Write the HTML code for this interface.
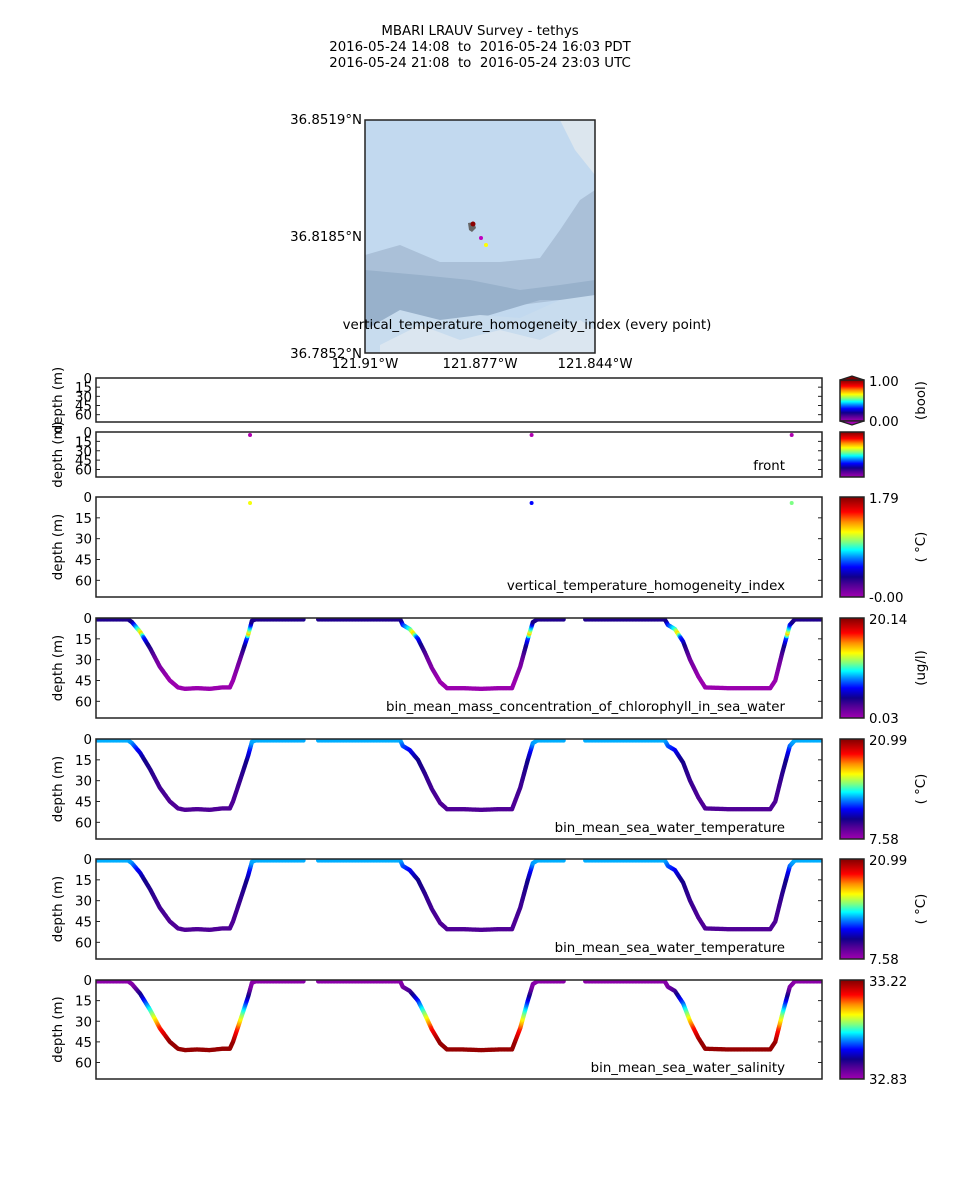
<!DOCTYPE html>
<html><head><meta charset="utf-8"><style>
html,body{margin:0;padding:0;background:#fff}
svg{display:block;font-family:"DejaVu Sans","Liberation Sans",sans-serif}
text{white-space:pre}
</style></head><body>
<svg id="fig" width="960" height="1200" viewBox="0 0 960 1200" xmlns="http://www.w3.org/2000/svg">
<g font-size="13.35" text-anchor="middle" fill="#000">
<text x="480" y="35" xml:space="preserve">MBARI LRAUV Survey - tethys</text>
<text x="480" y="51" xml:space="preserve">2016-05-24 14:08  to  2016-05-24 16:03 PDT</text>
<text x="480" y="67" xml:space="preserve">2016-05-24 21:08  to  2016-05-24 23:03 UTC</text>
</g>
<g>
<defs><clipPath id="mapclip"><rect x="365" y="120" width="230" height="233"/></clipPath></defs>
<g clip-path="url(#mapclip)">
<rect x="365" y="120" width="230" height="233" fill="#c2d9ef"/>
<polygon points="560,120 595,120 595,175 575,150" fill="#dce6ee"/>
<polygon points="365,255 400,245 440,262 500,262 540,258 560,230 580,200 595,190 595,300 560,300 520,305 470,318 420,322 380,330 365,340" fill="#aac0d8"/>
<polygon points="365,270 420,275 470,280 520,290 560,285 595,280 595,300 540,300 480,318 420,325 365,335" fill="#98b1cb"/>
<polygon points="365,330 400,310 440,320 480,315 520,318 560,300 595,295 595,353 365,353" fill="#c8dcee"/>
<polygon points="380,345 420,325 460,340 500,330 540,340 580,320 595,330 595,353 380,353" fill="#dbe6f0"/>
</g>
<rect x="365" y="120" width="230" height="233" fill="none" stroke="#222" stroke-width="1.5"/>
<path d="M468,223 L474,222 L476,228 L472,232 L469,230 Z" fill="#666"/>
<circle cx="473" cy="224" r="2.5" fill="#8b0000"/>
<circle cx="481" cy="238" r="2" fill="#c000c0"/>
<circle cx="486" cy="245" r="2" fill="#ffff00"/>
<g font-size="13.35" fill="#000">
<text x="362" y="124" text-anchor="end">36.8519°N</text>
<text x="362" y="241" text-anchor="end">36.8185°N</text>
<text x="362" y="358" text-anchor="end">36.7852°N</text>
<text x="365" y="368" text-anchor="middle">121.91°W</text>
<text x="480" y="368" text-anchor="middle">121.877°W</text>
<text x="595" y="368" text-anchor="middle">121.844°W</text>
<text x="527" y="329" text-anchor="middle">vertical_temperature_homogeneity_index (every point)</text>
</g>
</g>
<g id="panels"></g>
</svg>
<script>
// mission time (minutes since 14:08) and vehicle depth (m) keypoints; null = data gap
const times = [0,5.1,5.7,7.0,8.6,10.1,11.7,13.0,14.1,16,18,20,21.2,21.7,22.8,24.1,24.7,25.3,33.1,null,35.2,48.2,48.6,49.7,51.0,52.1,53.2,54.5,55.6,58,61,64,65.9,67.2,68.4,69.2,69.9,74.3,null,77.5,90.1,90.6,91.7,93.0,94.1,95.4,96.5,100,103,106.8,107.6,108.7,109.9,110.7,115];
const depths = [1,1,3,10,22,35,45,50,51,50.5,51,50,50,45,30,12,2,1,1,null,1,1,5,8,15,25,36,46,50.5,50.5,51,50.5,50.5,35,15,3,1,1,null,1,1,5,8,17,30,42,50,50.5,50.5,50.5,45,25,5,1,1];
// colour-variable depth profiles
const chlDepth = [0,3,8,11,14,20,30,45,60];
const chlValue = [3.5,4,10,14,7,4,1.5,0.2,0.2];
const tempDepth = [0,3,8,15,30,45,60];
const tempValue = [13.3,13.0,11.6,10.3,9.6,9.2,9.2];
const salDepth = [0,5,12,20,28,35,45,60];
const salValue = [32.84,32.85,32.92,33.0,33.08,33.15,33.21,33.21];
// sparse point series
const frontTimes = [24.4,69.0,110.2];
const frontDepths = [4.8,4.8,4.8];
const vthTimes = [24.4,69.0,110.2];
const vthDepths = [4.3,4.3,4.3];
const vthValues = [1.15,0.54,0.98];
const depthTicks = [0,15,30,45,60];

const NS="http://www.w3.org/2000/svg";
const root=document.getElementById('panels');
const X0=96,X1=822,TMAX=115,DMAX=72,FS=13.35;
const xs=t=>X0+(t/TMAX)*(X1-X0);
const stops=[[0,[160,0,176]],[0.12,[80,0,150]],[0.2,[16,0,138]],[0.3,[0,0,255]],[0.4,[0,144,255]],[0.47,[0,255,255]],[0.55,[128,255,128]],[0.65,[255,255,0]],[0.75,[255,144,0]],[0.85,[255,0,0]],[1,[128,0,0]]];
function cmap(f){f=Math.max(0,Math.min(1,f));for(let i=1;i<stops.length;i++){if(f<=stops[i][0]){const a=stops[i-1],b=stops[i],u=(f-a[0])/(b[0]-a[0]);return 'rgb('+a[1].map((c,k)=>Math.round(c+(b[1][k]-c)*u)).join(',')+')';}}return 'rgb(128,0,0)';}
function lookup(ds,vs,d){if(d<=ds[0])return vs[0];for(let i=1;i<ds.length;i++){if(d<=ds[i]){const u=(d-ds[i-1])/(ds[i]-ds[i-1]);return vs[i-1]+(vs[i]-vs[i-1])*u;}}return vs[vs.length-1];}
function mk(tag,attrs,parent){const e=document.createElementNS(NS,tag);for(const k in attrs)e.setAttribute(k,attrs[k]);(parent||root).appendChild(e);return e;}
function txt(x,y,s,attrs,parent){const e=mk('text',Object.assign({x:x,y:y,'font-size':FS,fill:'#000'},attrs||{}),parent);e.textContent=s;return e;}
let gid=0;
function colorbar(g,y0,h,hi,lo,unit,extend){
  gid++;
  const defs=mk('defs',{},g);
  const lg=mk('linearGradient',{id:'cb'+gid,x1:0,y1:1,x2:0,y2:0},defs);
  stops.forEach(s=>mk('stop',{offset:s[0],'stop-color':'rgb('+s[1].join(',')+')'},lg));
  const cb=mk('rect',{x:840,y:y0,width:24,height:h,fill:'url(#cb'+gid+')',stroke:'#222','stroke-width':1.5},g);
  
  
  if(extend){
    mk('polygon',{points:`840,${y0} 852,${y0-4} 864,${y0}`,fill:'rgb(128,0,0)',stroke:'#222','stroke-width':1.2},g);
    mk('polygon',{points:`840,${y0+h} 852,${y0+h+4} 864,${y0+h}`,fill:'rgb(160,0,176)',stroke:'#222','stroke-width':1.2},g);
  }
  if(hi!==null){txt(869,y0+6,hi,{},g);txt(869,y0+h+5,lo,{},g);}
  if(unit){const u=txt(0,0,unit,{'text-anchor':'middle',transform:`translate(925,${y0+h/2}) rotate(-90)`},g);
    
    }
}
function panel(name,y0,h,label,cbHi,cbLo,unit,extend,cbY,cbH){
  const g=mk('g',{});
  
  
  const ys=d=>y0+(d/DMAX)*h;
  const clipId='cp'+name;
  const defs=mk('defs',{},g);const cp=mk('clipPath',{id:clipId},defs);mk('rect',{x:X0,y:y0,width:X1-X0,height:h},cp);
  const plot=mk('g',{'clip-path':`url(#${clipId})`},g);
  mk('rect',{x:X0,y:y0,width:X1-X0,height:h,fill:'none',stroke:'#222','stroke-width':1.5},g);
  depthTicks.forEach(v=>{const y=ys(v);mk('line',{x1:X0,x2:X0+4,y1:y,y2:y,stroke:'#222'},g);mk('line',{x1:X1,x2:X1-4,y1:y,y2:y,stroke:'#222'},g);
    const t=txt(X0-4,y+5,String(v),{'text-anchor':'end'},g);
    
    });
  const yl=txt(0,0,'depth (m)',{'text-anchor':'middle',transform:`translate(62,${y0+h/2}) rotate(-90)`},g);
  
  
  if(label){const l=txt(785,y0+h-7,label,{'text-anchor':'end'},g);
    
    }
  colorbar(g,cbY!==undefined?cbY:y0,cbH!==undefined?cbH:h,cbHi,cbLo,unit,extend);
  return {g:plot,ys:ys};
}
function track(p,ds,vs,lo,hi){
  for(let i=1;i<times.length;i++){
    if(times[i]===null||times[i-1]===null)continue;
    const t0=times[i-1],t1=times[i],d0=depths[i-1],d1=depths[i];
    const n=Math.max(2,Math.ceil(Math.hypot(xs(t1)-xs(t0),p.ys(d1)-p.ys(d0))/1.5));
    for(let k=0;k<n;k++){const u=k/n;const d=d0+(d1-d0)*u;const v=lookup(ds,vs,d);
      const c=mk('circle',{cx:xs(t0+(t1-t0)*u),cy:p.ys(d),r:2.2,fill:cmap((v-lo)/(hi-lo))},p.g);
      
      }
  }
}
panel('panel-homogeneity-every-point',378,44,null,'1.00','0.00','(bool)',true,380,41);
const pf=panel('panel-front',432,45,'front',null,null,null,false);
frontTimes.forEach((t,i)=>{const c=mk('circle',{cx:xs(t),cy:pf.ys(frontDepths[i]),r:2,fill:'#b000b0'},pf.g);
  
  });
const pv=panel('panel-vth-index',497,100,'vertical_temperature_homogeneity_index','1.79','-0.00','( \u00b0C)',false);
vthTimes.forEach((t,i)=>{const c=mk('circle',{cx:xs(t),cy:pv.ys(vthDepths[i]),r:2,fill:cmap(vthValues[i]/1.79)},pv.g);
  
  });
const pc=panel('panel-chlorophyll',618,100,'bin_mean_mass_concentration_of_chlorophyll_in_sea_water','20.14','0.03','(ug/l)',false);
track(pc,chlDepth,chlValue,0.03,20.14);
const pt1=panel('panel-temperature-1',739,100,'bin_mean_sea_water_temperature','20.99','7.58','( \u00b0C)',false);
track(pt1,tempDepth,tempValue,7.58,20.99);
const pt2=panel('panel-temperature-2',859,100,'bin_mean_sea_water_temperature','20.99','7.58','( \u00b0C)',false);
track(pt2,tempDepth,tempValue,7.58,20.99);
const ps=panel('panel-salinity',980,99,'bin_mean_sea_water_salinity','33.22','32.83',null,false);
track(ps,salDepth,salValue,32.83,33.22);
</script>
</body></html>
